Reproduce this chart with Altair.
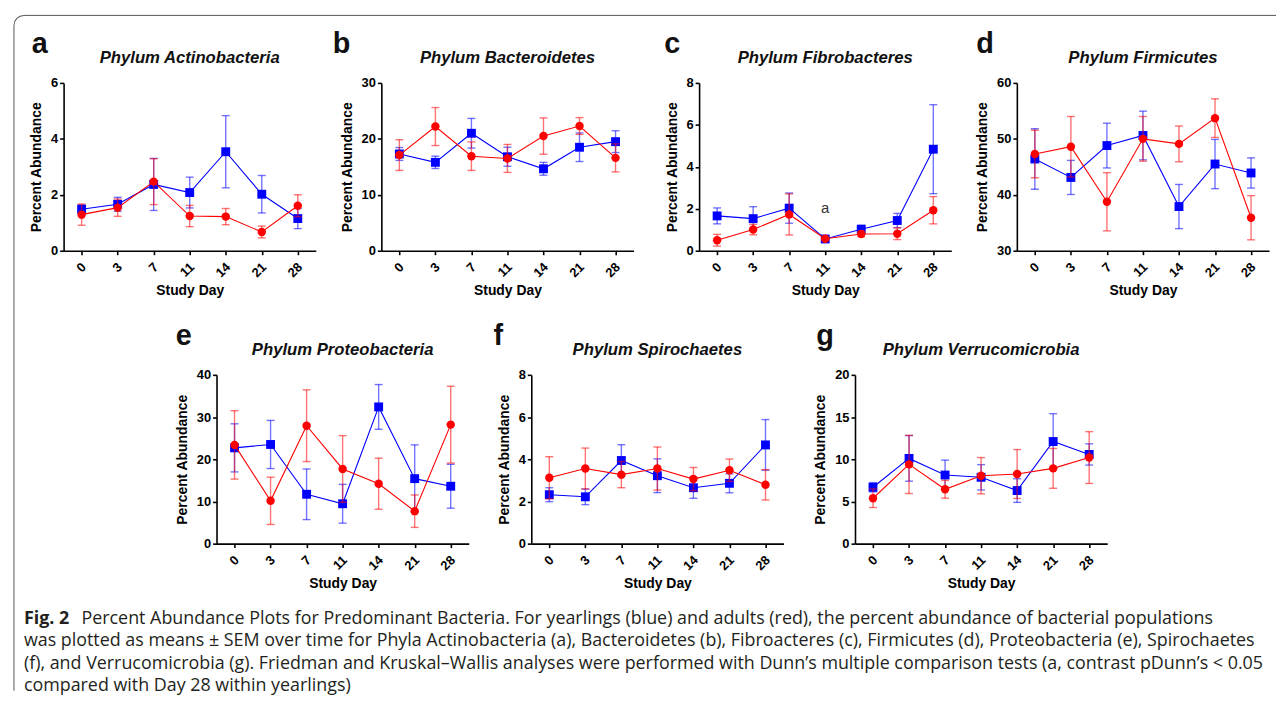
import altair as alt
import pandas as pd

DAYS = ["0", "3", "7", "11", "14", "21", "28"]
DAY_NUM = [0, 3, 7, 11, 14, 21, 28]

LETTERS = ["a", "b", "c", "d", "e", "f", "g"]
TITLES = ["Phylum Actinobacteria", "Phylum Bacteroidetes", "Phylum Fibrobacteres",
          "Phylum Firmicutes", "Phylum Proteobacteria", "Phylum Spirochaetes",
          "Phylum Verrucomicrobia"]
Y_DOMAINS = [[0, 6], [0, 30], [0, 8], [30, 60], [0, 40], [0, 8], [0, 20]]
Y_TICKS = [[0, 2, 4, 6], [0, 10, 20, 30], [0, 2, 4, 6, 8], [30, 40, 50, 60],
           [0, 10, 20, 30, 40], [0, 2, 4, 6, 8], [0, 5, 10, 15, 20]]

# yearlings (blue) and adults (red): mean and SEM per study day
YEARLING_MEAN_A = [1.48, 1.66, 2.37, 2.08, 3.54, 2.02, 1.15]
YEARLING_SEM_A = [0.16, 0.25, 0.93, 0.55, 1.29, 0.67, 0.36]
ADULT_MEAN_A = [1.29, 1.54, 2.47, 1.24, 1.22, 0.67, 1.61]
ADULT_SEM_A = [0.38, 0.31, 0.82, 0.38, 0.29, 0.21, 0.39]

YEARLING_MEAN_B = [17.3, 15.8, 21.0, 16.8, 14.65, 18.5, 19.5]
YEARLING_SEM_B = [1.15, 1.1, 2.65, 1.7, 1.15, 2.55, 1.95]
ADULT_MEAN_B = [17.1, 22.2, 16.9, 16.5, 20.5, 22.3, 16.6]
ADULT_SEM_B = [2.75, 3.4, 2.55, 2.5, 3.25, 1.5, 2.5]

YEARLING_MEAN_C = [1.66, 1.53, 2.03, 0.56, 1.02, 1.44, 4.84]
YEARLING_SEM_C = [0.38, 0.57, 0.72, 0.06, 0.2, 0.34, 2.12]
ADULT_MEAN_C = [0.5, 1.01, 1.73, 0.57, 0.8, 0.81, 1.93]
ADULT_SEM_C = [0.28, 0.25, 0.98, 0.05, 0.13, 0.28, 0.65]

YEARLING_MEAN_D = [46.4, 43.1, 48.8, 50.6, 37.9, 45.5, 43.9]
YEARLING_SEM_D = [5.4, 3.05, 4.0, 4.35, 3.95, 4.4, 2.7]
ADULT_MEAN_D = [47.3, 48.6, 38.75, 50.0, 49.1, 53.7, 35.9]
ADULT_SEM_D = [4.25, 5.4, 5.2, 4.0, 3.2, 3.45, 3.95]

YEARLING_MEAN_E = [22.7, 23.5, 11.7, 9.45, 32.4, 15.4, 13.6]
YEARLING_SEM_E = [5.7, 5.7, 6.0, 4.6, 5.3, 8.0, 5.2]
ADULT_MEAN_E = [23.4, 10.15, 27.95, 17.7, 14.2, 7.7, 28.2]
ADULT_SEM_E = [8.1, 5.6, 8.5, 7.9, 6.05, 3.85, 9.1]

YEARLING_MEAN_F = [2.32, 2.22, 3.94, 3.22, 2.65, 2.86, 4.68]
YEARLING_SEM_F = [0.33, 0.37, 0.75, 0.8, 0.5, 0.45, 1.2]
ADULT_MEAN_F = [3.12, 3.56, 3.27, 3.56, 3.06, 3.48, 2.79]
ADULT_SEM_F = [1.0, 0.97, 0.62, 1.02, 0.55, 0.53, 0.72]

YEARLING_MEAN_G = [6.68, 10.1, 8.13, 7.86, 6.29, 12.1, 10.57]
YEARLING_SEM_G = [0.55, 2.7, 1.77, 1.5, 1.4, 3.3, 1.26]
ADULT_MEAN_G = [5.38, 9.39, 6.44, 8.05, 8.25, 8.92, 10.2]
ADULT_SEM_G = [1.1, 3.45, 1.05, 2.15, 2.9, 2.36, 3.07]

YEARLING_MEANS = [YEARLING_MEAN_A, YEARLING_MEAN_B, YEARLING_MEAN_C, YEARLING_MEAN_D,
                  YEARLING_MEAN_E, YEARLING_MEAN_F, YEARLING_MEAN_G]
YEARLING_SEMS = [YEARLING_SEM_A, YEARLING_SEM_B, YEARLING_SEM_C, YEARLING_SEM_D,
                 YEARLING_SEM_E, YEARLING_SEM_F, YEARLING_SEM_G]
ADULT_MEANS = [ADULT_MEAN_A, ADULT_MEAN_B, ADULT_MEAN_C, ADULT_MEAN_D,
               ADULT_MEAN_E, ADULT_MEAN_F, ADULT_MEAN_G]
ADULT_SEMS = [ADULT_SEM_A, ADULT_SEM_B, ADULT_SEM_C, ADULT_SEM_D,
              ADULT_SEM_E, ADULT_SEM_F, ADULT_SEM_G]

# significance annotation in panel c
ANNOT_DAY = "11"
ANNOT_VALUE = 2.05
ANNOT_TEXT = "a"

CAPTION_HEAD = "Fig. 2"
CAPTION_LINES = [
    "Percent Abundance Plots for Predominant Bacteria. For yearlings (blue) and adults (red), the percent abundance of bacterial populations",
    "was plotted as means \u00b1 SEM over time for Phyla Actinobacteria (a), Bacteroidetes (b), Fibroacteres (c), Firmicutes (d), Proteobacteria (e), Spirochaetes",
    "(f), and Verrucomicrobia (g). Friedman and Kruskal\u2013Wallis analyses were performed with Dunn\u2019s multiple comparison tests (a, contrast pDunn\u2019s < 0.05",
    "compared with Day 28 within yearlings)",
]

# ---- styling / layout ----
BLUE = "#0000ff"
RED = "#ff0000"
FRAME = "#555555"
FONT = "Liberation Sans"
CAP_FONT = "Open Sans"
CAP_SIZE = 18.0
W = 254
H_TOP = 169
H_BOT = 170
LETTER_DX = [-32, -49, -35, -41, -41, -38, -39]


def panel(i, height, frame=False):
    rows = []
    for grp, means, sems in [("Yearlings", YEARLING_MEANS[i], YEARLING_SEMS[i]),
                             ("Adults", ADULT_MEANS[i], ADULT_SEMS[i])]:
        for d, dn, m, s in zip(DAYS, DAY_NUM, means, sems):
            rows.append({"day": d, "dnum": dn, "group": grp, "mean": m, "sem": s})
    df = pd.DataFrame(rows)
    base = alt.Chart(df).transform_calculate(
        lo="datum.mean - datum.sem", hi="datum.mean + datum.sem")

    xaxis = alt.Axis(title="Study Day", labelAngle=315, labelAlign="right",
                     labelBaseline="middle", tickSize=4, labelPadding=10,
                     labelOffset=2, titlePadding=4)
    xenc = alt.X("day:O", scale=alt.Scale(type="point", padding=0.5, domain=DAYS),
                 axis=xaxis)
    yaxis = alt.Axis(values=Y_TICKS[i], title="Percent Abundance", tickSize=4,
                     labelPadding=2, titlePadding=7)

    def yenc(field):
        return alt.Y(f"{field}:Q", scale=alt.Scale(domain=Y_DOMAINS[i], nice=False, zero=False),
                     axis=yaxis)

    layers = []
    for grp, color, shape, size in [("Yearlings", BLUE, "square", 80),
                                    ("Adults", RED, "circle", 72)]:
        b = base.transform_filter(alt.datum.group == grp)
        layers += [
            b.mark_rule(color=color, strokeWidth=1.4, opacity=0.55).encode(
                x=xenc, y=yenc("lo"), y2="hi:Q"),
            b.mark_tick(color=color, size=8, thickness=1.4, opacity=0.55).encode(
                x=xenc, y=yenc("lo")),
            b.mark_tick(color=color, size=8, thickness=1.4, opacity=0.55).encode(
                x=xenc, y=yenc("hi")),
            b.mark_line(color=color, strokeWidth=1.1).encode(
                x=xenc, y=yenc("mean"), order="dnum:Q"),
            b.mark_point(shape=shape, filled=True, size=size, color=color, opacity=1).encode(
                x=xenc, y=yenc("mean")),
        ]

    title = alt.Chart(pd.DataFrame({"t": [TITLES[i]]})).mark_text(
        font=FONT, fontSize=16.8, fontWeight="bold", fontStyle="italic",
        align="center", baseline="alphabetic", color="#111").encode(
        text="t:N", x=alt.value(W / 2), y=alt.value(-20))
    letter = alt.Chart(pd.DataFrame({"t": [LETTERS[i]]})).mark_text(
        font=FONT, fontSize=29, fontWeight="bold", align="left",
        baseline="alphabetic", color="#111").encode(
        text="t:N", x=alt.value(LETTER_DX[i]), y=alt.value(-30))
    layers += [title, letter]

    if i == 2:
        ann = alt.Chart(pd.DataFrame({"day": [ANNOT_DAY], "v": [ANNOT_VALUE], "t": [ANNOT_TEXT]}))
        layers.append(ann.mark_text(font=FONT, fontSize=15, color="#333",
                                    baseline="middle").encode(
            x=xenc, y=yenc("v"), text="t:N"))

    if frame:
        one = alt.Chart(pd.DataFrame({"v": [0]}))
        layers += [
            one.mark_rule(color=FRAME, strokeWidth=1).encode(
                x=alt.value(-50), y=alt.value(-58), y2=alt.value(612)),
            one.mark_rule(color=FRAME, strokeWidth=1).encode(
                x=alt.value(-40), x2=alt.value(1221), y=alt.value(-68)),
            one.mark_arc(radius=10.5, radius2=9.5, theta=4.712389, theta2=6.283185,
                         color=FRAME).encode(x=alt.value(-40), y=alt.value(-58)),
        ]

    return alt.layer(*layers).properties(width=W, height=height)


top = alt.hconcat(panel(0, H_TOP, frame=True), panel(1, H_TOP), panel(2, H_TOP),
                  panel(3, H_TOP), spacing=66, bounds="flush")

spacer = alt.Chart(pd.DataFrame({"v": [0]})).mark_point(opacity=0).encode(
    x=alt.value(0), y=alt.value(0)).properties(width=91, height=10)
bottom = alt.hconcat(spacer, panel(4, H_BOT),
                     alt.hconcat(panel(5, H_BOT), panel(6, H_BOT), spacing=72, bounds="flush"),
                     spacing=63, bounds="flush")

cap_df = pd.DataFrame({"i": list(range(len(CAPTION_LINES))), "t": CAPTION_LINES})
cap_y = alt.Y("i:Q", scale=alt.Scale(domain=[0, 3], range=[0, 67.5]), axis=None)
cap_base = alt.Chart(cap_df)
caption = alt.layer(
    alt.Chart(pd.DataFrame({"i": [0], "t": [CAPTION_HEAD]})).mark_text(
        font=CAP_FONT, fontSize=CAP_SIZE, fontWeight="bold", align="left", baseline="middle",
        color="#231f20").encode(x=alt.value(-40), y=cap_y, text="t:N"),
    cap_base.transform_filter(alt.datum.i == 0).mark_text(
        font=CAP_FONT, fontSize=CAP_SIZE, align="left", baseline="middle",
        color="#231f20").encode(x=alt.value(18), y=cap_y, text="t:N"),
    cap_base.transform_filter(alt.datum.i > 0).mark_text(
        font=CAP_FONT, fontSize=CAP_SIZE, align="left", baseline="middle",
        color="#231f20").encode(x=alt.value(-40), y=cap_y, text="t:N"),
).properties(width=1150, height=67.5)

# nested concats with flush bounds count as zero-size, so spacings are offsets
chart = alt.vconcat(
    alt.vconcat(top, bottom, spacing=294, bounds="flush"),
    caption, spacing=540, bounds="flush"
).properties(
    padding={"left": 5, "top": 4, "right": 0, "bottom": 0}
).configure_view(stroke=None).configure_axis(
    grid=False, domainColor="#000", domainWidth=1.6, tickColor="#000", tickWidth=1.6,
    labelFont=FONT, labelFontSize=13, labelFontWeight="bold", labelColor="#000",
    titleFont=FONT, titleFontSize=14, titleFontWeight="bold", titleColor="#000",
)

chart.save("out.html", embed_options={"renderer": "svg", "actions": False})
